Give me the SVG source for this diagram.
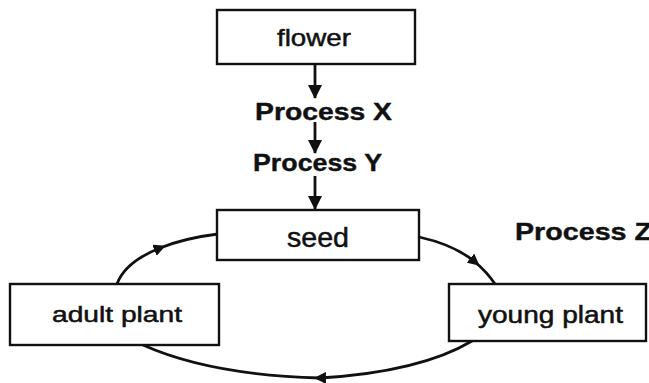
<svg xmlns="http://www.w3.org/2000/svg" width="649" height="383" viewBox="0 0 649 383">
<defs>
<style>
.box{fill:#fff;stroke:#111;stroke-width:2.4}
.lbl{font-family:"Liberation Sans",Arial,sans-serif;fill:#111;stroke:#111;stroke-width:0.5}
.proc{font-family:"Liberation Sans",Arial,sans-serif;font-weight:bold;fill:#111;stroke:#111;stroke-width:0.4}
.con{fill:none;stroke:#111;stroke-width:2.8}
</style>
<marker id="ah" viewBox="0 0 14 14" refX="13" refY="7" markerWidth="14" markerHeight="14" markerUnits="userSpaceOnUse" orient="auto">
<path d="M0,0 L14,7 L0,14 z" fill="#111"/>
</marker>
<marker id="am" viewBox="0 0 12 12" refX="6" refY="6" markerWidth="12" markerHeight="12" markerUnits="userSpaceOnUse" orient="auto">
<path d="M0,0 L12,6 L0,12 z" fill="#111"/>
</marker>
</defs>
<rect width="649" height="383" fill="#fff"/>
<g id="connectors">
<line class="con" x1="315" y1="64" x2="315" y2="98" marker-end="url(#ah)"/>
<line class="con" x1="315" y1="122" x2="315" y2="153" marker-end="url(#ah)"/>
<line class="con" x1="315" y1="176" x2="315" y2="209" marker-end="url(#ah)"/>
<path class="con" d="M117,284 Q125,262 160,248 Q185,238 218,234" marker-mid="url(#am)"/>
<path class="con" d="M419,237 Q455,245 475,262 Q487,272 495,284" marker-mid="url(#am)"/>
<path class="con" d="M472,341 Q420,372 320,378 Q210,375 143,345" marker-mid="url(#am)"/>
</g>
<g id="flower">
<rect class="box" x="217" y="10" width="198" height="54"/>
<text class="lbl" x="277" y="46" font-size="24" textLength="74" lengthAdjust="spacingAndGlyphs">flower</text>
</g>
<g id="processX">
<text class="proc" x="255" y="120" font-size="24" textLength="137" lengthAdjust="spacingAndGlyphs">Process X</text>
</g>
<g id="processY">
<text class="proc" x="253" y="171" font-size="24" textLength="129" lengthAdjust="spacingAndGlyphs">Process Y</text>
</g>
<g id="seed">
<rect class="box" x="217" y="210" width="202" height="50"/>
<text class="lbl" x="287" y="247" font-size="27" textLength="62" lengthAdjust="spacingAndGlyphs">seed</text>
</g>
<g id="processZ">
<text class="proc" x="515" y="240" font-size="24" textLength="137" lengthAdjust="spacingAndGlyphs">Process Z</text>
</g>
<g id="adult-plant">
<rect class="box" x="10" y="284" width="209" height="61"/>
<text class="lbl" x="52" y="322" font-size="22" textLength="130" lengthAdjust="spacingAndGlyphs">adult plant</text>
</g>
<g id="young-plant">
<rect class="box" x="449" y="284" width="197" height="57"/>
<text class="lbl" x="478" y="323" font-size="23" textLength="145" lengthAdjust="spacingAndGlyphs">young plant</text>
</g>
</svg>
